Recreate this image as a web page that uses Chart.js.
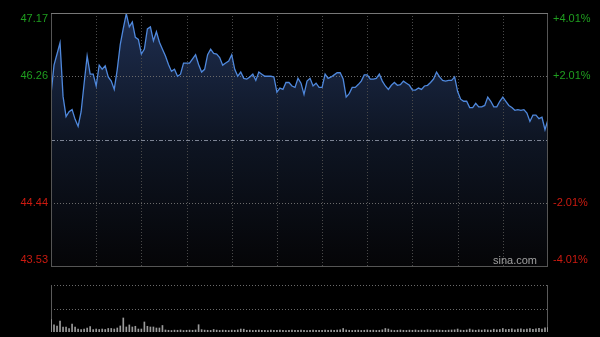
<!DOCTYPE html>
<html>
<head>
<meta charset="utf-8">
<script src="https://cdn.jsdelivr.net/npm/chart.js@4"></script>
<style>
  html, body { margin: 0; padding: 0; background: #000; }
  #wrap { position: relative; width: 600px; height: 337px; }
  canvas { position: absolute; left: 0; top: 0; }
</style>
</head>
<body>
<div id="wrap">
  <canvas id="priceChart" width="600" height="337"></canvas>
  <canvas id="volChart" width="600" height="337"></canvas>
</div>
<script>
const prevClose = 45.35;
const priceTicks = [47.17, 46.26, 45.35, 44.44, 43.53];
const priceLabels = ['47.17', '46.26', '', '44.44', '43.53'];
const pctLabels = ['+4.01%', '+2.01%', '', '-2.01%', '-4.01%'];

// one value every 2 minutes, 09:30 - 16:00
const prices = [
    46.00, 46.42, 46.58, 46.74, 45.97, 45.68, 45.75, 45.78, 45.64, 45.54,
    45.75, 46.16, 46.55, 46.29, 46.29, 46.12, 46.42, 46.36, 46.41, 46.25,
    46.19, 46.07, 46.36, 46.72, 46.95, 47.16, 46.97, 47.04, 46.82, 46.79,
    46.58, 46.65, 46.94, 46.97, 46.77, 46.90, 46.75, 46.65, 46.55, 46.43,
    46.33, 46.36, 46.26, 46.29, 46.45, 46.45, 46.45, 46.51, 46.57, 46.43,
    46.32, 46.36, 46.57, 46.65, 46.59, 46.58, 46.53, 46.42, 46.45, 46.48,
    46.57, 46.36, 46.26, 46.32, 46.23, 46.22, 46.25, 46.29, 46.20, 46.32,
    46.29, 46.26, 46.26, 46.26, 46.25, 46.03, 46.09, 46.07, 46.17, 46.17,
    46.12, 46.10, 46.23, 46.16, 46.00, 46.19, 46.23, 46.12, 46.16, 46.10,
    46.10, 46.29, 46.23, 46.25, 46.28, 46.31, 46.31, 46.22, 45.96, 46.01,
    46.10, 46.10, 46.14, 46.19, 46.28, 46.28, 46.22, 46.22, 46.23, 46.29,
    46.19, 46.12, 46.07, 46.13, 46.17, 46.13, 46.14, 46.19, 46.16, 46.13,
    46.06, 46.06, 46.09, 46.07, 46.12, 46.13, 46.17, 46.22, 46.32, 46.25,
    46.20, 46.19, 46.20, 46.20, 46.25, 46.04, 45.93, 45.90, 45.90, 45.81,
    45.81, 45.87, 45.82, 45.82, 45.84, 45.96, 45.90, 45.82, 45.82, 45.90,
    45.96, 45.90, 45.84, 45.81, 45.77, 45.78, 45.77, 45.78, 45.73, 45.61,
    45.70, 45.70, 45.65, 45.67, 45.49, 45.64
];

// volume, thousand shares
const volumes = [
    158, 90, 77, 141, 64, 64, 45, 102, 64, 38,
    32, 38, 51, 70, 32, 38, 32, 38, 32, 45,
    45, 38, 51, 77, 179, 64, 90, 64, 73, 38,
    38, 128, 73, 64, 64, 51, 51, 83, 26, 22,
    19, 24, 22, 26, 19, 22, 24, 22, 26, 93,
    30, 24, 22, 20, 32, 24, 20, 24, 22, 19,
    24, 22, 26, 38, 36, 22, 24, 20, 22, 26,
    20, 22, 19, 24, 22, 20, 24, 22, 19, 22,
    24, 20, 22, 26, 22, 19, 22, 24, 20, 22,
    20, 24, 22, 26, 22, 24, 28, 45, 26, 22,
    20, 22, 24, 20, 22, 26, 22, 24, 20, 22,
    28, 45, 38, 24, 20, 22, 26, 22, 20, 24,
    22, 26, 20, 24, 22, 28, 24, 22, 26, 24,
    22, 20, 24, 26, 28, 38, 24, 22, 26, 38,
    26, 22, 28, 24, 30, 26, 24, 36, 28, 32,
    45, 30, 34, 40, 28, 36, 42, 32, 38, 44,
    34, 40, 48, 38, 52, 58
];
const volMax = 600;

const lastIdx = prices.length - 1;
const gridStep = 15; // half an hour
const labelFont = '11px "Liberation Sans", Arial, sans-serif';

function hline(ctx, area, y, color, dash) {
    ctx.save();
    ctx.strokeStyle = color;
    ctx.lineWidth = 1;
    ctx.setLineDash(dash);
    ctx.beginPath();
    ctx.moveTo(area.left, Math.round(y) + 0.5);
    ctx.lineTo(area.right, Math.round(y) + 0.5);
    ctx.stroke();
    ctx.restore();
}

function vline(ctx, x, top, bottom, color, dash) {
    ctx.save();
    ctx.strokeStyle = color;
    ctx.lineWidth = 1;
    ctx.setLineDash(dash);
    ctx.beginPath();
    ctx.moveTo(Math.round(x) + 0.5, top);
    ctx.lineTo(Math.round(x) + 0.5, bottom);
    ctx.stroke();
    ctx.restore();
}

const priceGrid = {
    id: 'priceGrid',
    afterDatasetDraw(chart, args) {
        if (args.index !== 1) return;
        const ctx = chart.ctx;
        const a = chart.chartArea;
        const xs = chart.scales.x, ys = chart.scales.y;
        for (let k = gridStep; k < lastIdx; k += gridStep) {
            vline(ctx, xs.getPixelForValue(k), a.top, a.bottom, '#4a4a4a', [1, 2]);
        }
        priceTicks.forEach((v, i) => {
            if (i === 0 || i === priceTicks.length - 1) return;
            const y = ys.getPixelForValue(v);
            if (v === prevClose) {
                hline(ctx, a, y, '#7d8494', [4, 2, 1, 2]);
            } else {
                hline(ctx, a, y, '#6a6a6a', [1, 2]);
            }
        });
    },
    afterDraw(chart) {
        const ctx = chart.ctx;
        const a = chart.chartArea;
        const ys = chart.scales.y;
        ctx.save();
        ctx.strokeStyle = '#555';
        ctx.lineWidth = 1;
        ctx.strokeRect(a.left + 0.5, a.top + 0.5, a.right - a.left - 1, a.bottom - a.top);
        ctx.strokeStyle = '#777';
        ctx.beginPath();
        ctx.moveTo(a.left, a.top + 0.5);
        ctx.lineTo(a.right, a.top + 0.5);
        ctx.stroke();

        ctx.font = labelFont;
        ctx.textBaseline = 'middle';
        priceTicks.forEach((v, i) => {
            if (!priceLabels[i]) return;
            let y = ys.getPixelForValue(v);
            y = Math.min(Math.max(y, a.top + 6), a.bottom - 6);
            ctx.fillStyle = v > prevClose ? '#1f9e1f' : '#cc1a10';
            ctx.textAlign = 'right';
            ctx.fillText(priceLabels[i], a.left - 3, y);
            ctx.textAlign = 'left';
            ctx.fillText(pctLabels[i], a.right + 5, y);
        });

        ctx.fillStyle = '#a0a0a0';
        ctx.textAlign = 'right';
        ctx.fillText('sina.com', a.right - 11, a.bottom - 5);
        ctx.restore();
    }
};

const points = prices.map((p, i) => ({ x: i, y: p }));

new Chart(document.getElementById('priceChart').getContext('2d'), {
    type: 'line',
    data: {
        datasets: [{
            data: points,
            borderColor: '#4f88dc',
            borderWidth: 1.3,
            pointRadius: 0,
            tension: 0,
            fill: false
        }, {
            data: points,
            borderWidth: 0,
            pointRadius: 0,
            tension: 0,
            fill: 'start',
            backgroundColor: (c) => {
                const a = c.chart.chartArea;
                if (!a) return 'rgba(0,0,0,0)';
                const g = c.chart.ctx.createLinearGradient(0, a.top, 0, a.bottom);
                g.addColorStop(0, 'rgb(30, 46, 80)');
                g.addColorStop(0.5, 'rgb(14, 21, 35)');
                g.addColorStop(1, 'rgb(5, 5, 7)');
                return g;
            }
        }]
    },
    options: {
        responsive: false,
        animation: false,
        events: [],
        layout: { padding: { left: 51, right: 52, top: 13, bottom: 71 } },
        scales: {
            x: { type: 'linear', min: 0, max: lastIdx, display: false },
            y: { min: priceTicks[priceTicks.length - 1], max: priceTicks[0], display: false }
        },
        plugins: {
            legend: { display: false },
            tooltip: { enabled: false }
        }
    },
    plugins: [priceGrid]
});

const volGrid = {
    id: 'volGrid',
    beforeDatasetsDraw(chart) {
        const ctx = chart.ctx;
        const a = chart.chartArea;
        const ys = chart.scales.y;
        hline(ctx, a, ys.getPixelForValue(volMax), '#6a6a6a', [1, 2]);
        hline(ctx, a, ys.getPixelForValue(volMax / 2), '#6a6a6a', [1, 2]);
        vline(ctx, a.left, a.top, a.bottom, '#5a5a5a', []);
        vline(ctx, a.right - 1, a.top, a.bottom, '#5a5a5a', []);
    }
};

new Chart(document.getElementById('volChart').getContext('2d'), {
    type: 'bar',
    data: {
        datasets: [{
            data: volumes.map((v, i) => ({ x: i, y: v })),
            backgroundColor: '#9a9a9a',
            barThickness: 1
        }]
    },
    options: {
        responsive: false,
        animation: false,
        events: [],
        layout: { padding: { left: 51, right: 52, top: 285, bottom: 5 } },
        scales: {
            x: { type: 'linear', min: 0, max: lastIdx, display: false, offset: false },
            y: { min: 0, max: volMax, display: false }
        },
        plugins: {
            legend: { display: false },
            tooltip: { enabled: false }
        }
    },
    plugins: [volGrid]
});
</script>
</body>
</html>
